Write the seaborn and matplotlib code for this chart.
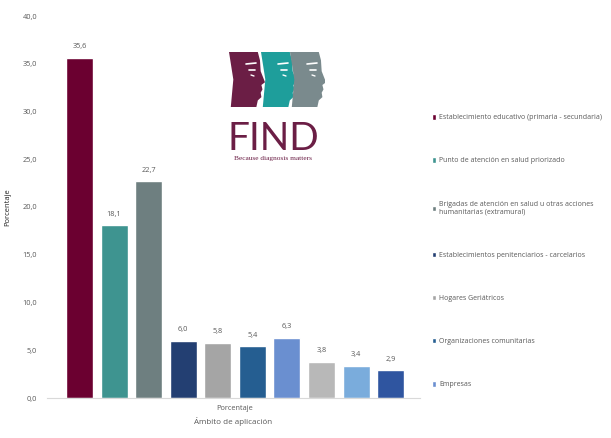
## Ambito de aplicacion - porcentaje por tipo de establecimiento

import seaborn as sns
import matplotlib.pyplot as plt
import pandas as pd
from matplotlib.patches import Polygon, Patch

categorias = [
    'Establecimiento educativo (primaria - secundaria)',
    'Punto de atención en salud priorizado',
    'Brigadas de atención en salud u otras acciones\nhumanitarias (extramural)',
    'Establecimientos penitenciarios - carcelarios',
    'Hogares Geriátricos',
    'Organizaciones comunitarias',
    'Empresas',
    'Otro 1',
    'Otro 2',
    'Otro 3',
]
porcentaje = [35.6, 18.1, 22.7, 6.0, 5.8, 5.4, 6.3, 3.8, 3.4, 2.9]
colores = ['#6B0030', '#3E9490', '#6E7F80', '#233F72', '#A5A5A5',
           '#255E91', '#6A8FD0', '#B8B8B8', '#7AACDC', '#2F55A0']
y_ticks = [0, 5, 10, 15, 20, 25, 30, 35, 40]

df = pd.DataFrame({'ambito': categorias, 'pct': porcentaje})

sns.set_style('white')
plt.rcParams['font.family'] = ['Open Sans', 'DejaVu Sans']
gris = '#595959'

fig = plt.figure(figsize=(6.11, 4.38), dpi=100)
ax = fig.add_axes([47 / 611, 1 - 398 / 438, 373 / 611, 382 / 438])

sns.barplot(data=df, x='ambito', y='pct', hue='ambito', palette=colores,
            width=0.78, legend=False, ax=ax, saturation=1)

for i, v in enumerate(porcentaje):
    ax.text(i, v + 0.8, f'{v:.1f}'.replace('.', ','), ha='center', va='bottom',
            fontsize=5.3, color=gris)

ax.set_xlim(-0.94, 9.85)
ax.set_ylim(0, 40)
ax.set_yticks(y_ticks)
ax.set_yticklabels([f'{t:.1f}'.replace('.', ',') for t in y_ticks], fontsize=5.3, color=gris)
ax.tick_params(axis='y', length=0, pad=7)
ax.set_xticks([4.5])
ax.set_xticklabels(['Porcentaje'], fontsize=5.3, color=gris)
ax.tick_params(axis='x', length=0, pad=5)
ax.set_xlabel('Ámbito de aplicación', fontsize=5.8, color=gris, labelpad=4)
ax.set_ylabel('Porcentaje', fontsize=5.5, color='#222222', labelpad=8)
for s in ['top', 'right', 'left']:
    ax.spines[s].set_visible(False)
ax.spines['bottom'].set_color('#D9D9D9')
ax.spines['bottom'].set_linewidth(0.8)

# leyenda (solo las primeras 7 entradas visibles)
handles = [Patch(facecolor=colores[i], label=categorias[i]) for i in range(7)]
fig.legend(handles=handles, loc='upper left', bbox_to_anchor=(426 / 611, 1 - 108 / 438),
           frameon=False, fontsize=5.0, handlelength=0.6, handleheight=0.8,
           handletextpad=0.4, labelspacing=5.2, labelcolor=gris)

# logo FIND
lg = fig.add_axes([220 / 611, 1 - 165 / 438, 105 / 611, 118 / 438])
lg.set_xlim(220, 325)
lg.set_ylim(165, 47)
lg.axis('off')
cara = [(0, 0), (0.8, 0), (0.86, 0.15), (0.88, 0.35), (1.0, 0.55), (0.9, 0.6),
        (0.93, 0.68), (0.88, 0.74), (0.9, 0.82), (0.8, 0.88), (0.76, 1.0),
        (0.05, 1.0), (0.12, 0.5)]
for x0, c in [(229, '#6B1E45'), (261, '#1E9E9B'), (290, '#7A8A8D')]:
    pts = [(x0 + px * 36, 52 + py * 55) for px, py in cara]
    lg.add_patch(Polygon(pts, closed=True, facecolor=c, edgecolor='none'))
    lg.plot([x0 + 17, x0 + 27], [64, 63], color='white', lw=1.2)
    lg.plot([x0 + 20, x0 + 26], [70, 70], color='white', lw=1.2)
    lg.plot([x0 + 22, x0 + 25], [75, 76], color='white', lw=1.0)
lg.text(273, 150, 'FIND', ha='center', va='baseline', fontsize=28, color='#6B1E45',
        family=['Lato', 'DejaVu Sans'])
lg.text(273, 160, 'Because diagnosis matters', ha='center', va='baseline',
        fontsize=5.3, color='#6B1E45', family=['Liberation Serif', 'DejaVu Serif'])

fig.savefig('out.png', dpi=100)
